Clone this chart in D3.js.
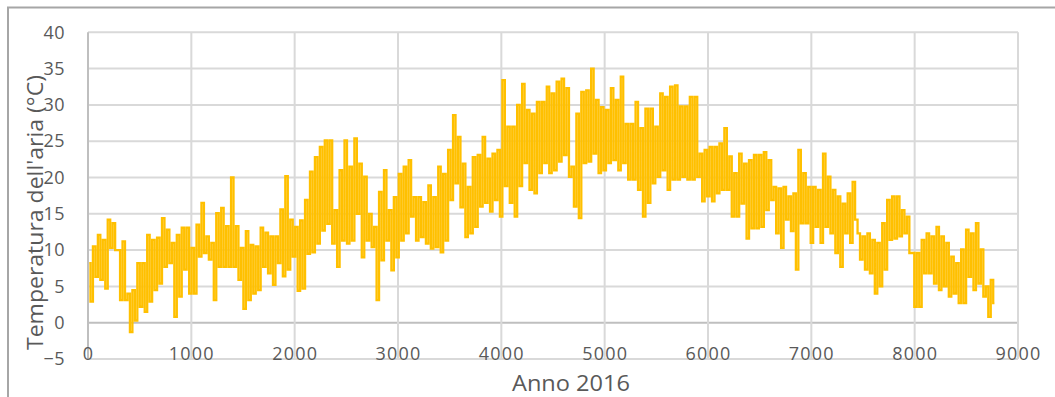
<!DOCTYPE html>
<html>
<head>
<meta charset="utf-8">
<script src="https://cdn.jsdelivr.net/npm/d3@7"></script>
<style>
  body { margin: 0; background: #fff; }
  svg text { font-family: "Open Sans", sans-serif; fill: #595959; }
</style>
</head>
<body>
<figure id="chart" style="margin:0"></figure>
<script>
const totalHours = 8784;

const highs = [
  8.2,10.5,12.1,11.4,14.2,13.7,10,11.2,4,4.5,8.2,8.2,12.1,11.4,11.7,14.4,12.8,11,12.1,13.1,13.1,
  10.3,13.5,16.5,11.9,11,15.1,15.8,13.3,20,13.3,10.3,12.6,10.7,10.5,13.1,12.4,11.9,11.9,15.6,20.2,14.2,
  13.2,14.1,16.9,20.8,22.8,24.2,25.1,25.1,15.5,21,25.1,21.5,25.4,21.9,20.1,15,13.2,18,21,15.5,17.3,
  20.5,21.5,22.4,17.3,17.3,16.6,18.9,17.3,21.5,20.5,23.8,28.6,25.6,21.9,18.7,22.8,23.1,25.6,22.6,23.3,23.8,
  33.4,27,27,30,32.9,29.3,28.8,30.4,30.4,32.5,31.6,33.2,33.6,32.3,21.5,28.8,31.8,32,35,30.7,29.7,
  29.3,32.3,30.7,33.9,27.4,27.4,30.4,26.8,29.5,29.5,27,31.6,31.1,32.5,32.7,29.8,29.8,31.1,31.1,23.3,23.8,
  24.2,24.2,24.7,26.8,22.9,20.6,23.3,21.9,22.4,23.1,23.1,23.5,22.4,18.7,18.5,18.7,17.4,17.8,23.8,20.6,18.7,
  18.7,18.3,23.3,20.1,18.3,17.4,16.4,17.8,19.4,12.3,11.9,12.3,11.4,11,13.7,16.9,17.4,17.4,15.5,14.6,9.6,
  9.6,11.4,12.3,11.9,13.2,11.9,11,9.1,8.2,10.1,12.8,12.3,13.7,10.1,5,5.9
];

const lows = [
  2.9,6.3,5.9,4.7,10.3,10,3.1,3.1,-1.3,0.3,2.2,1.5,2.9,4.5,5.4,7.7,8.2,0.8,3.6,7.3,4,
  4,9.1,9.6,8.7,3.1,7.7,7.7,7.7,7.7,5.9,1.9,3.1,4,4.5,7.7,6.8,5.2,8.2,6.4,7.3,9.1,
  4.4,4.7,9.5,9.7,10.9,12.7,13.6,10.9,7.7,11.3,10.9,11.3,15,9,11.3,10.4,3.1,8.6,11.3,7.2,9,
  11.3,12.3,14.6,11.3,11.8,10.9,10.2,10.4,9.7,11.3,16.9,19.2,15.9,11.8,12.3,13.2,16,16.5,15.3,16.9,14.6,
  18.8,16.5,14.6,18.8,22,18.3,17.8,20.6,22,20.6,21,22.2,23.1,20.1,16,14.4,22,22.2,23.3,20.6,21,
  22,22.4,21,22,19.7,19.7,18.3,14.6,16.5,19.2,20.1,21,18.3,19.7,19.7,20.1,19.7,19.7,20.1,16.7,17.4,
  16.7,17.8,18.3,18.3,14.6,14.6,16.4,11.6,13,13,13.2,15.5,16.9,12.3,10.3,14.2,12.6,7.3,13.7,13.7,11,
  13.2,11,13.2,12.3,9.6,7.7,12.3,11,14.2,8.7,7.3,6.8,4,5,7.3,11.4,11.6,11.9,12.3,9.6,2.2,
  2.2,6.8,6.8,5.4,4.5,5,3.6,4,2.7,2.7,6.3,4.5,5.4,3.6,0.8,2.7
];

const xTicks = [0,1000,2000,3000,4000,5000,6000,7000,8000,9000];
const yTicks = [-5,0,5,10,15,20,25,30,35,40];
const xTitle = "Anno 2016";
const yTitle = "Temperatura dell'aria (°C)";

const width = 1055, height = 397;
const plotLeft = 88, plotRight = 1018, plotTop = 32.3, plotBottom = 359;

const svg = d3.select("figure#chart")
  .append("svg")
  .attr("width", width)
  .attr("height", height);

// bordo esterno
svg.append("rect")
  .attr("x", 8).attr("y", 7.5)
  .attr("width", 1060).attr("height", 400)
  .attr("fill", "none")
  .attr("stroke", "#a6a6a6")
  .attr("stroke-width", 2);

const x = d3.scaleLinear().domain([0, 9000]).range([plotLeft, plotRight]);
const y = d3.scaleLinear().domain([-5, 40]).range([plotBottom, plotTop]);

// griglia
svg.append("g").selectAll("line")
  .data(yTicks)
  .enter().append("line")
  .attr("x1", plotLeft).attr("x2", plotRight)
  .attr("y1", d => y(d)).attr("y2", d => y(d))
  .attr("stroke", d => d === 0 ? "#bfbfbf" : "#d9d9d9")
  .attr("stroke-width", 2);

svg.append("g").selectAll("line")
  .data(xTicks)
  .enter().append("line")
  .attr("x1", d => x(d)).attr("x2", d => x(d))
  .attr("y1", plotTop).attr("y2", plotBottom)
  .attr("stroke", d => d === 0 ? "#bfbfbf" : "#d9d9d9")
  .attr("stroke-width", 2);

// etichette assi
const yAxis = svg.append("g")
  .attr("transform", "translate(" + plotLeft + ",0)")
  .call(d3.axisLeft(y).tickValues(yTicks).tickSize(0).tickPadding(23));
yAxis.select(".domain").remove();
yAxis.selectAll("text")
  .style("font-size", "18px")
  .style("letter-spacing", "0.5px")
  .attr("fill", "#595959");

const xAxis = svg.append("g")
  .attr("transform", "translate(0," + plotBottom + ")")
  .call(d3.axisBottom(x).tickValues(xTicks).tickSize(0).tickFormat(d3.format("d")));
xAxis.select(".domain").remove();
xAxis.selectAll("text")
  .attr("y", -5)
  .attr("dy", "0.36em")
  .style("font-size", "18px")
  .style("letter-spacing", "1.2px")
  .attr("fill", "#595959");

// serie: massimo e minimo di ogni periodo, alternati
const step = totalHours / highs.length;
const series = [];
highs.forEach((h, i) => {
  series.push({ hour: i * step + step * 0.25, t: h });
  series.push({ hour: i * step + step * 0.75, t: lows[i] });
});

const line = d3.line()
  .curve(d3.curveStep)
  .x(d => x(d.hour))
  .y(d => y(d.t));

svg.append("path")
  .datum(series)
  .attr("d", line)
  .attr("fill", "none")
  .attr("stroke", "#FFC000")
  .attr("stroke-width", 2.3)
  .attr("stroke-linejoin", "miter");

// titoli
svg.append("text")
  .attr("x", 571).attr("y", 390.5)
  .attr("text-anchor", "middle")
  .attr("textLength", 118)
  .attr("lengthAdjust", "spacingAndGlyphs")
  .style("font-size", "22px")
  .text(xTitle);

svg.append("text")
  .attr("transform", "translate(43,212.5) rotate(-90)")
  .attr("text-anchor", "middle")
  .attr("textLength", 275)
  .attr("lengthAdjust", "spacingAndGlyphs")
  .style("font-size", "22px")
  .text(yTitle);
</script>
</body>
</html>
